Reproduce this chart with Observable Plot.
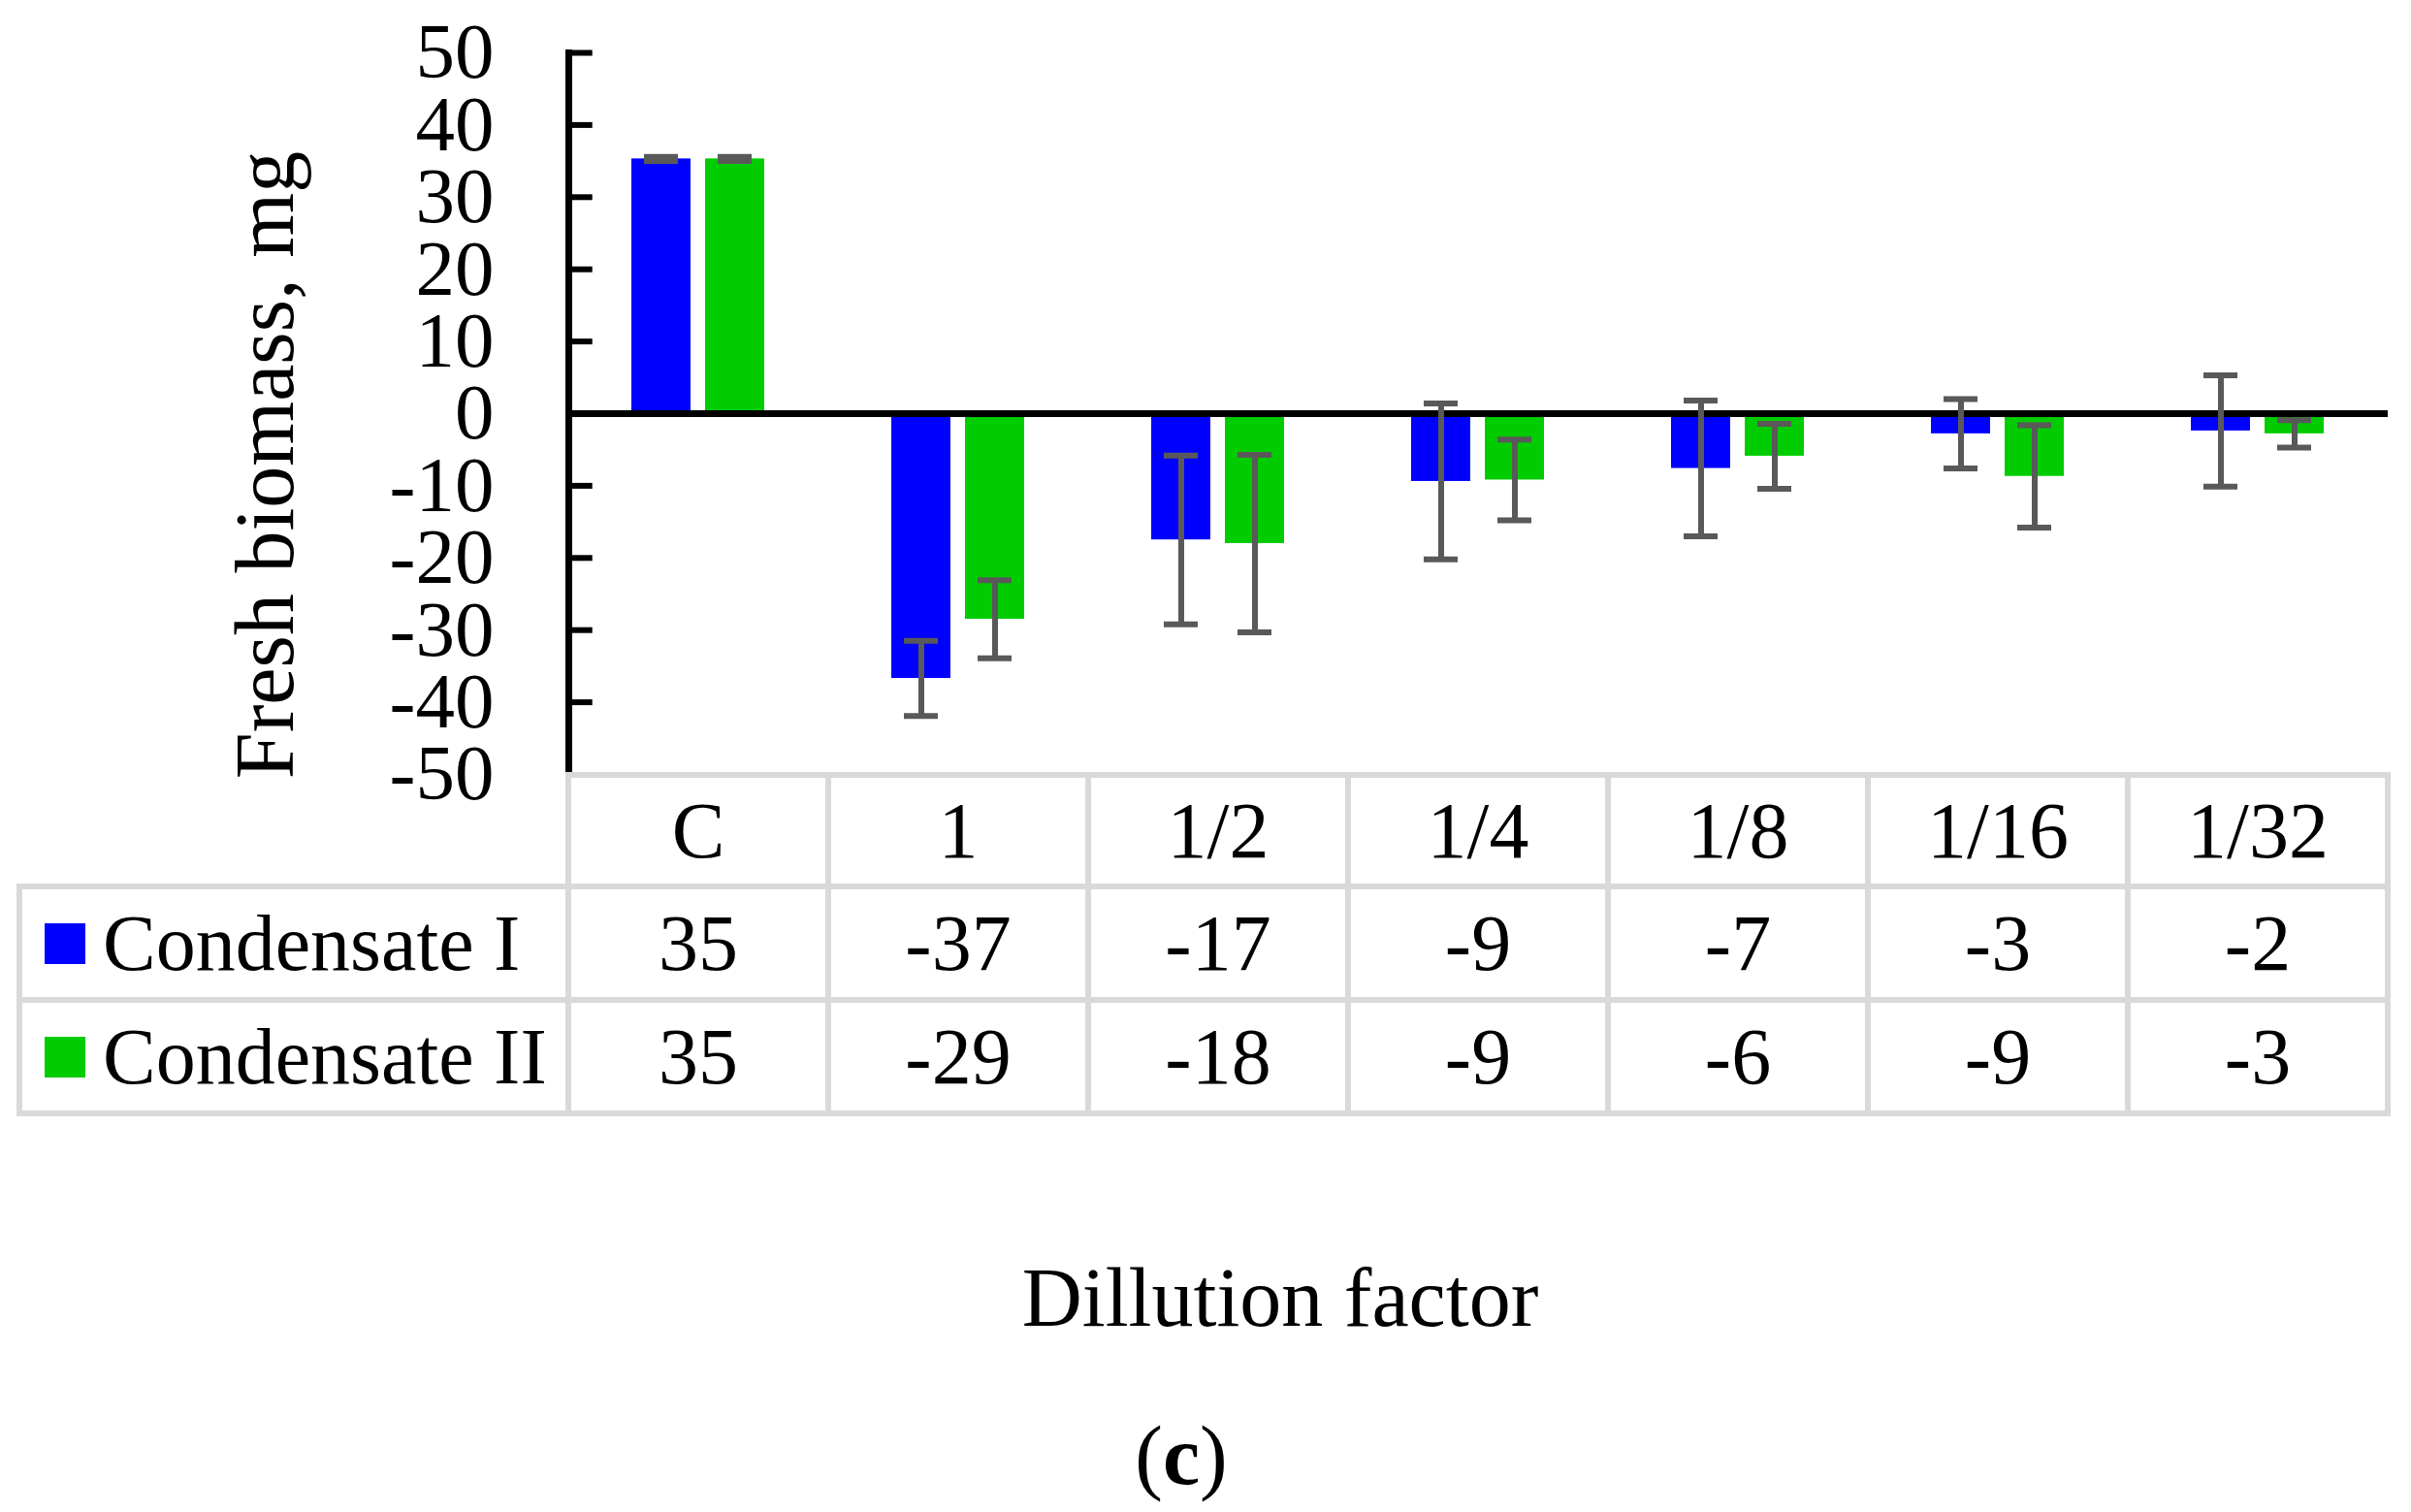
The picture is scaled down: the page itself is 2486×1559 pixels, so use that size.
<!DOCTYPE html>
<html>
<head>
<meta charset="utf-8">
<script src="https://cdn.jsdelivr.net/npm/d3@7"></script>
<script src="https://cdn.jsdelivr.net/npm/@observablehq/plot@0.6"></script>
<style>
  html, body { margin: 0; padding: 0; background: #fff; }
  #fig { position: relative; width: 2486px; height: 1559px; background: #fff; overflow: hidden;
         font-family: "Liberation Serif", "Times New Roman", serif; color: #000; }
  #fig > svg { position: absolute; left: 0; top: 0; }
  .gl { position: absolute; background: #d9d9d9; }
  .cell { position: absolute; display: flex; align-items: center; justify-content: center;
          font-size: 82px; line-height: 1; white-space: nowrap; }
  .leg { position: absolute; display: flex; align-items: center; font-size: 82px; line-height: 1; white-space: nowrap; }
  .sw { width: 42px; height: 42px; margin-right: 18px; flex: none; }
  .cap { position: absolute; font-size: 86px; line-height: 1; white-space: nowrap; text-align: center; }
</style>
</head>
<body>
<div id="fig"></div>
<script>
// ---- data ----
const categories = ["C", "1", "1/2", "1/4", "1/8", "1/16", "1/32"];
const seriesNames = ["Condensate I", "Condensate II"];
const colors = ["#0000ff", "#00cc00"];
const meanI  = [35.3, -36.7, -17.5, -9.4, -7.6, -2.8, -2.4];
const meanII = [35.3, -28.5, -18.0, -9.2, -5.9, -8.7, -2.8];
const errI   = [0.3, 5.2, 11.7, 10.8, 9.4, 4.8, 7.7];
const errII  = [0.3, 5.4, 12.3, 5.6, 4.5, 7.1, 1.9];
const labelsI  = ["35", "-37", "-17", "-9", "-7", "-3", "-2"];
const labelsII = ["35", "-29", "-18", "-9", "-6", "-9", "-3"];
const yTicks = [-50, -40, -30, -20, -10, 0, 10, 20, 30, 40, 50];
const yTitle = "Fresh biomass, mg";
const xTitle = "Dillution factor";
const panelLabel = "c";

const rows = [];
categories.forEach((c, i) => {
  rows.push({cat: c, series: seriesNames[0], mean: meanI[i], err: errI[i]});
  rows.push({cat: c, series: seriesNames[1], mean: meanII[i], err: errII[i]});
});

const W = 2486, H = 810, ML = 585, MR = 23, MT = 54, MB = 12;
const facetW = (W - ML - MR) / categories.length;
const font = "'Liberation Serif', 'Times New Roman', serif";

const plot = Plot.plot({
  width: W, height: H,
  marginLeft: ML, marginRight: MR, marginTop: MT, marginBottom: MB,
  style: {fontFamily: font, fontSize: "81px", color: "#000", background: "transparent", overflow: "visible"},
  fx: {domain: categories, padding: 0, axis: null, label: null},
  x: {domain: seriesNames, paddingInner: 0.195, paddingOuter: 0.84, axis: null},
  y: {domain: [-50, 50], axis: null},
  color: {domain: seriesNames, range: colors},
  marks: [
    Plot.barY(rows, {fx: "cat", x: "series", y: "mean", fill: "series"}),
    Plot.ruleY([0], {stroke: "#000", strokeWidth: 7}),
    Plot.ruleX(rows, {fx: "cat", x: "series", y1: d => d.mean - d.err, y2: d => d.mean + d.err,
                      stroke: "#595959", strokeWidth: 6}),
    Plot.tickY(rows, {fx: "cat", x: "series", y: d => d.mean - d.err, stroke: "#595959",
                      strokeWidth: 6, insetLeft: 13, insetRight: 13}),
    Plot.tickY(rows, {fx: "cat", x: "series", y: d => d.mean + d.err, stroke: "#595959",
                      strokeWidth: 6, insetLeft: 13, insetRight: 13}),
    Plot.frame({anchor: "left", facetAnchor: "left", stroke: "#000", strokeWidth: 7}),
    Plot.tickY(yTicks.filter(t => t > -50), {y: d => d, facetAnchor: "left", stroke: "#000", strokeWidth: 6,
                        insetRight: facetW - 25}),
    Plot.axisY(yTicks, {anchor: "left", facetAnchor: "left", tickSize: 0, tickPadding: 77,
                        tickFormat: d => String(d), fontSize: 81, label: null}),
    Plot.text([yTitle], {frameAnchor: "left", facetAnchor: "left", rotate: -90,
                         textAnchor: "middle", lineAnchor: "middle",
                         dx: -312, dy: 53, fontSize: 86, fill: "#000"})
  ]
});

const fig = document.getElementById("fig");
fig.appendChild(plot);

// ---- data table under the chart, aligned to the fx scale ----
const fxs = plot.scale("fx");
const colX = categories.map(c => fxs.apply(c));
const bw = fxs.bandwidth;
const xEnd = colX[colX.length - 1] + bw;
const tableLeft = 20;
const rowY = [799, 914, 1031, 1148];
const lw = 6;

function line(x, y, w, h) {
  const d = document.createElement("div");
  d.className = "gl";
  d.style.left = x + "px"; d.style.top = y + "px";
  d.style.width = w + "px"; d.style.height = h + "px";
  fig.appendChild(d);
}
// horizontal lines
line(colX[0] - lw / 2, rowY[0] - lw / 2, xEnd - colX[0] + lw, lw);
for (let r = 1; r < rowY.length; r++) line(tableLeft - lw / 2, rowY[r] - lw / 2, xEnd - tableLeft + lw, lw);
// vertical lines
line(tableLeft - lw / 2, rowY[1] - lw / 2, lw, rowY[3] - rowY[1] + lw);
colX.concat([xEnd]).forEach(x => line(x - lw / 2, rowY[0] - lw / 2, lw, rowY[3] - rowY[0] + lw));

function cell(text, x, y, w, h) {
  const d = document.createElement("div");
  d.className = "cell";
  d.style.left = x + "px"; d.style.top = y + "px";
  d.style.width = w + "px"; d.style.height = h + "px";
  d.textContent = text;
  fig.appendChild(d);
}
categories.forEach((c, i) => {
  cell(c, colX[i], rowY[0], bw, rowY[1] - rowY[0]);
  cell(labelsI[i], colX[i], rowY[1], bw, rowY[2] - rowY[1]);
  cell(labelsII[i], colX[i], rowY[2], bw, rowY[3] - rowY[2]);
});
[labelsI, labelsII].forEach((_, s) => {
  const d = document.createElement("div");
  d.className = "leg";
  d.style.left = "46px";
  d.style.top = rowY[s + 1] + "px";
  d.style.height = (rowY[s + 2] - rowY[s + 1]) + "px";
  const sw = document.createElement("span");
  sw.className = "sw";
  sw.style.background = colors[s];
  const t = document.createElement("span");
  t.textContent = seriesNames[s];
  d.appendChild(sw); d.appendChild(t);
  fig.appendChild(d);
});

// ---- captions ----
const xt = document.createElement("div");
xt.className = "cap";
xt.style.left = (1320 - 700) + "px"; xt.style.width = "1400px"; xt.style.top = "1295px";
xt.textContent = xTitle;
fig.appendChild(xt);

const pl = document.createElement("div");
pl.className = "cap";
pl.style.left = (1218 - 200) + "px"; pl.style.width = "400px"; pl.style.top = "1458px";
pl.innerHTML = "(<b>" + panelLabel + "</b>)";
fig.appendChild(pl);
</script>
</body>
</html>
